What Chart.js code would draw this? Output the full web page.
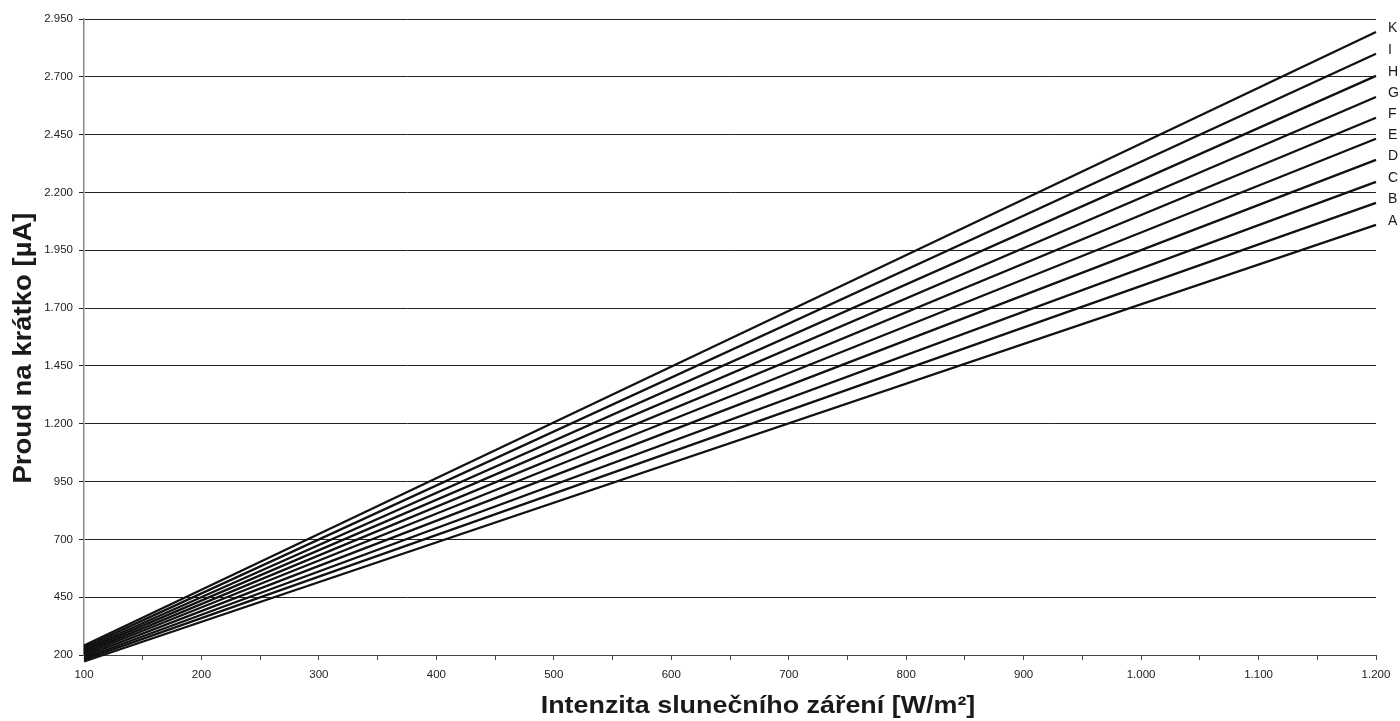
<!DOCTYPE html>
<html>
<head>
<meta charset="utf-8">
<script src="https://cdn.jsdelivr.net/npm/chart.js@4/dist/chart.umd.min.js"></script>
<style>
  html, body { margin: 0; padding: 0; background: #fff; }
  #wrap { width: 1400px; height: 721px; position: relative; }
</style>
</head>
<body>
<div id="wrap"><canvas id="chart"></canvas></div>
<script>
// irradiance range (W/m2)
const irradiance = [100, 1200];
// curve names, bottom to top
const seriesNames = ['A', 'B', 'C', 'D', 'E', 'F', 'G', 'H', 'I', 'K'];
// short-circuit current at 100 and 1200 W/m2
const currentAt100 = [172, 180, 187, 195, 203, 210, 218, 225, 233, 241];
const currentAt1200 = [2060, 2155, 2246, 2341, 2432, 2523, 2613, 2704, 2800, 2894];

const yTitle = 'Proud na krátko [µA]';
const xTitle = 'Intenzita slunečního záření [W/m²]';

function fmt(v) {
    return String(v).replace(/\B(?=(\d{3})+(?!\d))/g, '.');
}

const datasets = seriesNames.map((name, i) => ({
    label: name,
    data: [
        { x: irradiance[0], y: currentAt100[i] },
        { x: irradiance[1], y: currentAt1200[i] }
    ],
    borderColor: '#111',
    borderWidth: 2.3,
    pointRadius: 0,
    clip: false
}));

// axis titles + curve names at the right end
const labelsPlugin = {
    id: 'labels',
    afterDraw(chart) {
        const ctx = chart.ctx;
        const x = chart.scales.x, y = chart.scales.y;
        ctx.save();
        ctx.fillStyle = '#1a1a1a';
        ctx.font = '14px "Liberation Sans", Arial, sans-serif';
        ctx.textAlign = 'left';
        ctx.textBaseline = 'middle';
        chart.data.datasets.forEach(ds => {
            const last = ds.data[ds.data.length - 1];
            ctx.fillText(ds.label, x.getPixelForValue(last.x) + 12, y.getPixelForValue(last.y) - 4);
        });

        // x title, slightly widened like the original
        ctx.save();
        ctx.font = 'bold 24px "Liberation Sans", Arial, sans-serif';
        ctx.textAlign = 'center';
        ctx.textBaseline = 'alphabetic';
        ctx.translate(758, 713);
        ctx.scale(1.12, 1);
        ctx.fillText(xTitle, 0, 0);
        ctx.restore();

        // y title
        ctx.save();
        ctx.font = 'bold 25px "Liberation Sans", Arial, sans-serif';
        ctx.textAlign = 'center';
        ctx.textBaseline = 'alphabetic';
        ctx.translate(31, 348);
        ctx.rotate(-Math.PI / 2);
        ctx.scale(1.1, 1);
        ctx.fillText(yTitle, 0, 0);
        ctx.restore();

        ctx.restore();
    }
};

new Chart(document.getElementById('chart'), {
    type: 'line',
    data: { datasets },
    options: {
        responsive: true,
        maintainAspectRatio: false,
        animation: false,
        layout: { padding: { top: 19, right: 24, left: 0, bottom: 0 } },
        plugins: {
            legend: { display: false },
            tooltip: { enabled: false }
        },
        scales: {
            x: {
                type: 'linear',
                min: 100,
                max: 1200,
                afterFit: (s) => { s.height = 66; },
                border: { color: '#444', width: 1 },
                grid: { drawOnChartArea: false, drawTicks: true, tickLength: 5, color: '#444' },
                ticks: {
                    stepSize: 50,
                    autoSkip: false,
                    maxRotation: 0,
                    padding: 8,
                    color: '#222',
                    font: { family: '"Liberation Sans", Arial, sans-serif', size: 11.5 },
                    callback: (v) => (v % 100 === 0 ? fmt(v) : '')
                }
            },
            y: {
                min: 200,
                max: 2950,
                afterFit: (s) => { s.width = 84; },
                border: { color: '#888', width: 1.5 },
                grid: { color: '#222', lineWidth: 1, tickLength: 5 },
                ticks: {
                    stepSize: 250,
                    padding: 6,
                    color: '#222',
                    font: { family: '"Liberation Sans", Arial, sans-serif', size: 11.5 },
                    callback: (v) => fmt(v)
                }
            }
        }
    },
    plugins: [labelsPlugin]
});
</script>
</body>
</html>
